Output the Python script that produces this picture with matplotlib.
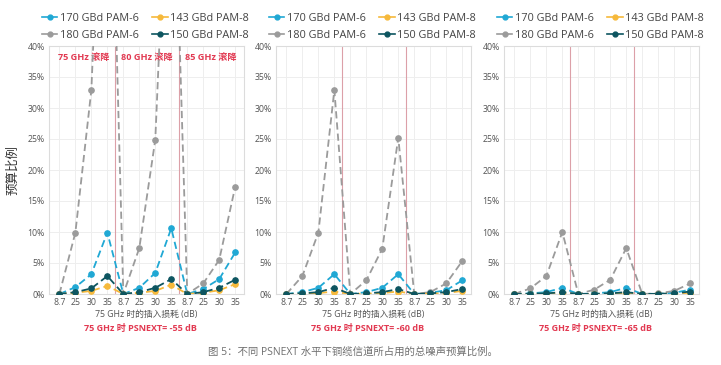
import matplotlib
matplotlib.use("Agg")
import matplotlib.pyplot as plt
from matplotlib.lines import Line2D

plt.rcParams['font.family'] = ['Open Sans', 'Noto Sans CJK SC', 'DejaVu Sans']

x_labels = ['8.7', '25', '30', '35'] * 3
rolloff_labels = ['75 GHz 滚降', '80 GHz 滚降', '85 GHz 滚降']
series_names = ['170 GBd PAM-6', '180 GBd PAM-6', '143 GBd PAM-8', '150 GBd PAM-8']
panel_titles = ['75 GHz 时 PSNEXT= -55 dB', '75 GHz 时 PSNEXT= -60 dB', '75 GHz 时 PSNEXT= -65 dB']
xlabel_text = '75 GHz 时的插入损耗 (dB)'
ylabel_text = '预算比例'
caption = '图 5：不同 PSNEXT 水平下铜缆信道所占用的总噪声预算比例。'

# Panel 1 (PSNEXT -55 dB)
p1_170 = [0, 1.1, 3.2, 9.9, 0, 1.0, 3.4, 10.6, 0, 0.8, 2.4, 6.7]
p1_143 = [0, 0.2, 0.5, 1.3, 0, 0.2, 0.5, 1.5, 0, 0.2, 0.6, 1.6]
p1_180 = [0, 9.9, 32.9, 95, 0, 7.4, 24.9, 85, 0, 1.7, 5.5, 17.3]
p1_150 = [0, 0.3, 0.9, 2.9, 0, 0.3, 1.0, 2.4, 0, 0.3, 1.0, 2.3]
# Panel 2 (PSNEXT -60 dB)
p2_170 = [0, 0.3, 1.0, 3.2, 0, 0.3, 1.0, 3.2, 0, 0.2, 0.6, 2.2]
p2_143 = [0, 0.05, 0.15, 0.4, 0, 0.05, 0.15, 0.4, 0, 0.05, 0.15, 0.5]
p2_180 = [0, 2.9, 9.9, 32.9, 0, 2.2, 7.3, 25.2, 0, 0.3, 1.7, 5.3]
p2_150 = [0, 0.1, 0.3, 1.0, 0, 0.1, 0.3, 0.8, 0, 0.1, 0.3, 0.8]
# Panel 3 (PSNEXT -65 dB)
p3_170 = [0, 0.1, 0.3, 1.0, 0, 0.1, 0.3, 1.0, 0, 0.05, 0.2, 0.7]
p3_143 = [0, 0.02, 0.05, 0.15, 0, 0.02, 0.05, 0.15, 0, 0.02, 0.05, 0.2]
p3_180 = [0, 0.9, 2.9, 10.0, 0, 0.7, 2.3, 7.4, 0, 0.1, 0.5, 1.7]
p3_150 = [0, 0.03, 0.1, 0.3, 0, 0.03, 0.1, 0.3, 0, 0.03, 0.1, 0.4]

panels = [
    (p1_170, p1_180, p1_143, p1_150),
    (p2_170, p2_180, p2_143, p2_150),
    (p3_170, p3_180, p3_143, p3_150),
]

colors = ['#20a8d4', '#9b9b9b', '#f6b93b', '#0d5560']
draw_order = [1, 0, 2, 3]

W, H = 721, 365
fig = plt.figure(figsize=(W / 100, H / 100), dpi=100)

lefts = [49, 276, 504]
width = 195
bottom_px, top_px = 294, 46

red = '#e23a52'
tick_col = '#555555'

for pi, (left, data) in enumerate(zip(lefts, panels)):
    ax = fig.add_axes([left / W, 1 - bottom_px / H, width / W, (bottom_px - top_px) / H])
    xs = list(range(len(x_labels)))
    for si in draw_order:
        ax.plot(xs, data[si], color=colors[si], linestyle=(0, (4, 2.2)), linewidth=1.3,
                marker='o', markersize=3.8, zorder=3 + si)
    ax.set_ylim(0, 40)
    ax.set_xlim(-0.65, 11.55)
    ax.set_yticks(range(0, 41, 5))
    ax.set_yticklabels([f'{v}%' for v in range(0, 41, 5)], fontsize=6.3, color=tick_col)
    ax.set_xticks(xs)
    ax.set_xticklabels(x_labels, fontsize=6.3, color=tick_col)
    ax.tick_params(length=0, pad=3)
    ax.grid(True, color='#eeeeee', linewidth=0.7, zorder=0)
    ax.set_axisbelow(True)
    for s in ax.spines.values():
        s.set_color('#dcdcdc')
        s.set_linewidth(0.8)
    for xv in (3.5, 7.5):
        ax.axvline(xv, color='#dca0a8', linewidth=0.8, zorder=2)
    ax.set_xlabel(xlabel_text, fontsize=6.3, color=tick_col, labelpad=2)
    ax.text(0.47, -0.12, panel_titles[pi], transform=ax.transAxes, ha='center', va='top',
            fontsize=6.5, color=red, fontweight='bold')
    if pi == 0:
        for gi, lab in enumerate(rolloff_labels):
            ax.text(1.5 + 4 * gi, 38.2, lab, ha='center', va='center', fontsize=6.6,
                    color=red, fontweight='bold')
    handles = [Line2D([0], [0], color=colors[i], linestyle='-', linewidth=1.2,
                      marker='o', markersize=3.5) for i in range(4)]
    ax.legend(handles, series_names, ncol=2, loc='lower left',
              bbox_to_anchor=(-0.035, 1.02), frameon=False, fontsize=7.8,
              handlelength=1.4, handletextpad=0.2, columnspacing=1.3,
              labelspacing=0.55, borderaxespad=0, borderpad=0,
              labelcolor='#444444')

fig.text(13 / W, 1 - 170 / H, ylabel_text, rotation=90, ha='center', va='center',
         fontsize=9, color='#333333')
fig.text(208 / W, 1 - 352 / H, caption, ha='left', va='center', fontsize=7.5,
         color='#6f6f6f')

fig.savefig('out.png', dpi=100)
